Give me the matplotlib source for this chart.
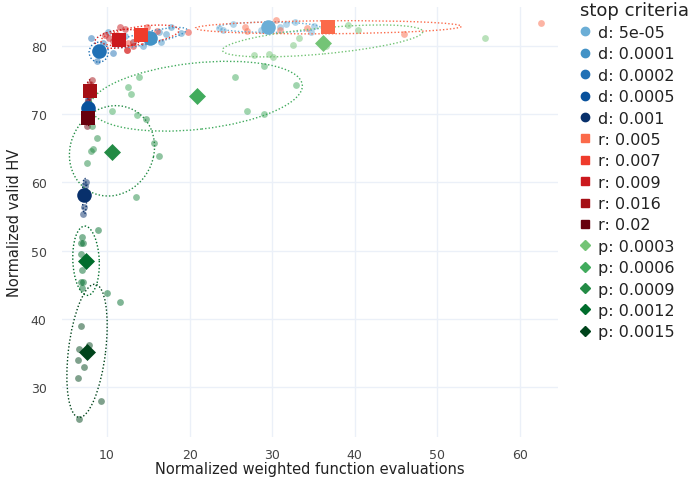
import matplotlib
matplotlib.use("Agg")
import matplotlib.pyplot as plt
from matplotlib.lines import Line2D
from matplotlib.patches import Ellipse

# series labels, colours, marker shapes
labels = ["d: 5e-05", "d: 0.0001", "d: 0.0002", "d: 0.0005", "d: 0.001",
          "r: 0.005", "r: 0.007", "r: 0.009", "r: 0.016", "r: 0.02",
          "p: 0.0003", "p: 0.0006", "p: 0.0009", "p: 0.0012", "p: 0.0015"]
colors = ["#6baed6", "#4292c6", "#2171b5", "#08519c", "#08306b",
          "#fb6a4a", "#ef3b2c", "#cb181d", "#a50f15", "#67000d",
          "#74c476", "#41ab5d", "#238b45", "#006d2c", "#00441b"]
markers = ["o"] * 5 + ["s"] * 5 + ["D"] * 5

# mean of each stop criterion
mean_x = [29.5, 15.2, 9.0, 7.7, 7.2,
          36.7, 14.1, 11.5, 7.9, 7.7,
          36.1, 20.9, 10.6, 7.5, 7.6]
mean_y = [82.7, 81.2, 79.2, 70.9, 58.2,
          82.7, 81.5, 80.9, 73.4, 69.4,
          80.4, 72.6, 64.4, 48.4, 35.2]

# individual runs
runs_x = [
    [23.5, 24.0, 25.2, 28.7, 30.9, 31.7, 32.7, 34.7, 35.0],
    [17.8, 19.0, 17.2, 16.3, 16.5, 13.2, 14.4, 12.2, 10.1],
    [8.06, 10.7, 8.75, 9.52, 8.55],
    [7.7, 7.58, 7.94, 7.7, 7.82],
    [7.42, 7.34, 7.28, 7.25, 7.13],
    [26.7, 26.9, 30.5, 30.9, 34.2, 46.0, 62.6],
    [14.8, 19.85, 16.0, 13.2, 12.4, 12.6, 11.2],
    [12.2, 9.76, 10.76, 12.46, 11.57, 13.2, 10.3],
    [8.15, 7.94, 7.82, 7.7],
    [7.6, 7.7, 7.46, 7.94],
    [27.8, 29.6, 30.1, 32.5, 33.2, 39.2, 40.4, 55.8, 36.5],
    [13.9, 12.6, 12.9, 25.5, 29.0, 32.9, 26.9, 29.0, 10.6, 13.6],
    [8.83, 8.34, 8.06, 7.54, 15.7, 16.3, 13.5, 14.7, 8.15],
    [8.87, 7.01, 6.82, 7.06, 6.85, 7.01, 6.82, 7.13, 7.01, 9.96, 11.57],
    [6.82, 6.65, 7.86, 6.45, 7.22, 6.53, 9.24, 6.65],
]
runs_y = [
    [82.55, 82.3, 83.2, 82.3, 82.7, 83.2, 83.4, 82.0, 82.9],
    [82.7, 81.9, 81.7, 82.05, 80.6, 80.5, 79.96, 81.4, 82.0],
    [81.1, 78.9, 77.8, 80.4, 79.2],
    [72.2, 71.6, 71.0, 70.1, 69.7],
    [60.0, 59.4, 58.7, 56.3, 55.4],
    [82.8, 82.2, 83.8, 82.3, 82.6, 81.7, 83.3],
    [82.7, 82.0, 82.2, 80.6, 79.3, 80.4, 81.5],
    [82.4, 81.5, 80.7, 79.3, 82.7, 80.0, 81.2],
    [75.0, 74.4, 72.6, 71.9],
    [68.3, 70.4, 69.0, 69.8],
    [78.7, 78.8, 78.3, 80.1, 81.1, 83.1, 82.3, 81.1, 80.0],
    [75.4, 74.0, 72.9, 75.4, 77.1, 74.2, 70.5, 70.0, 70.5, 69.9],
    [66.5, 64.9, 64.6, 62.8, 65.7, 63.8, 57.8, 69.3, 68.3],
    [53.0, 51.95, 51.1, 51.1, 49.5, 47.2, 45.45, 45.35, 44.5, 43.8, 42.45],
    [39.0, 35.6, 36.2, 34.0, 33.0, 31.3, 27.9, 25.3],
]

# spread ellipses: centre x, centre y, semi-axis a, semi-axis b, angle (deg)
ell_cx = [29.6, 15.2, 9.0, 7.75, 7.28, 36.8, 14.0, 11.5, 7.85, 7.7, 36.1, 20.8, 10.6, 7.46, 7.58]
ell_cy = [82.7, 81.2, 79.05, 70.9, 58.0, 82.7, 81.5, 81.0, 73.5, 69.4, 80.7, 72.6, 64.6, 48.5, 35.3]
ell_a = [6.2, 4.6, 1.17, 0.3, 0.25, 16.1, 4.8, 3.0, 0.3, 0.3, 12.2, 12.95, 6.66, 5.08, 9.8]
ell_b = [0.75, 0.9, 1.46, 1.4, 2.6, 0.95, 1.3, 1.3, 1.5, 1.1, 1.9, 4.85, 5.1, 1.6, 2.25]
ell_ang = [0, 15, 0, 0, 0, 0.5, 10, 10, 0, 0, 6.5, 7.8, 80, 92, 84.3]

fig = plt.figure(figsize=(6.94, 4.89), dpi=100)
ax = fig.add_axes([62 / 694, 1 - 438 / 489, 496 / 694, 430 / 489])

for i in range(len(labels)):
    ax.scatter(runs_x[i], runs_y[i], s=24, color=colors[i], alpha=0.5,
               linewidths=0, zorder=2)
    ax.add_patch(Ellipse((ell_cx[i], ell_cy[i]), 2 * ell_a[i], 2 * ell_b[i],
                         angle=ell_ang[i], fill=False, edgecolor=colors[i],
                         linestyle=(0, (1, 1.5)), linewidth=1.0, zorder=3))

for i in range(len(labels)):
    size = {"o": 110, "s": 100, "D": 75}[markers[i]]
    ax.scatter(mean_x[i], mean_y[i], s=size, color=colors[i], marker=markers[i],
               linewidths=0, zorder=4)

ax.set_xlim(4.55, 64.6)
ax.set_ylim(22.68, 85.67)
ax.set_xticks([10, 20, 30, 40, 50, 60])
ax.set_yticks([30, 40, 50, 60, 70, 80])
ax.grid(True, color="#ebf0f8", linewidth=1)
ax.set_axisbelow(True)
for sp in ax.spines.values():
    sp.set_visible(False)
ax.tick_params(axis="both", length=0, labelsize=9, labelcolor="#444444")
ax.tick_params(axis="x", pad=8)
ax.tick_params(axis="y", pad=11)
ax.set_xlabel("Normalized weighted function evaluations", fontsize=10.5,
              color="#222222", labelpad=0)
ax.set_ylabel("Normalized valid HV", fontsize=10.5, color="#222222", labelpad=6)

handles = []
for i in range(len(labels)):
    ms = {"o": 6, "s": 6, "D": 5.5}[markers[i]]
    handles.append(Line2D([], [], marker=markers[i], color=colors[i],
                          linestyle="None", markersize=ms))
leg = fig.legend(handles, labels, loc="upper left", bbox_to_anchor=(578 / 694, 1.0),
                 frameon=False, title="stop criteria", title_fontsize=13,
                 fontsize=11.5, labelspacing=0.4, handlelength=0.7,
                 handletextpad=0.45, borderaxespad=0, borderpad=0.1,
                 alignment="left")
for t in leg.get_texts():
    t.set_color("#222222")
leg.get_title().set_color("#222222")

fig.savefig("out.png", dpi=100)
